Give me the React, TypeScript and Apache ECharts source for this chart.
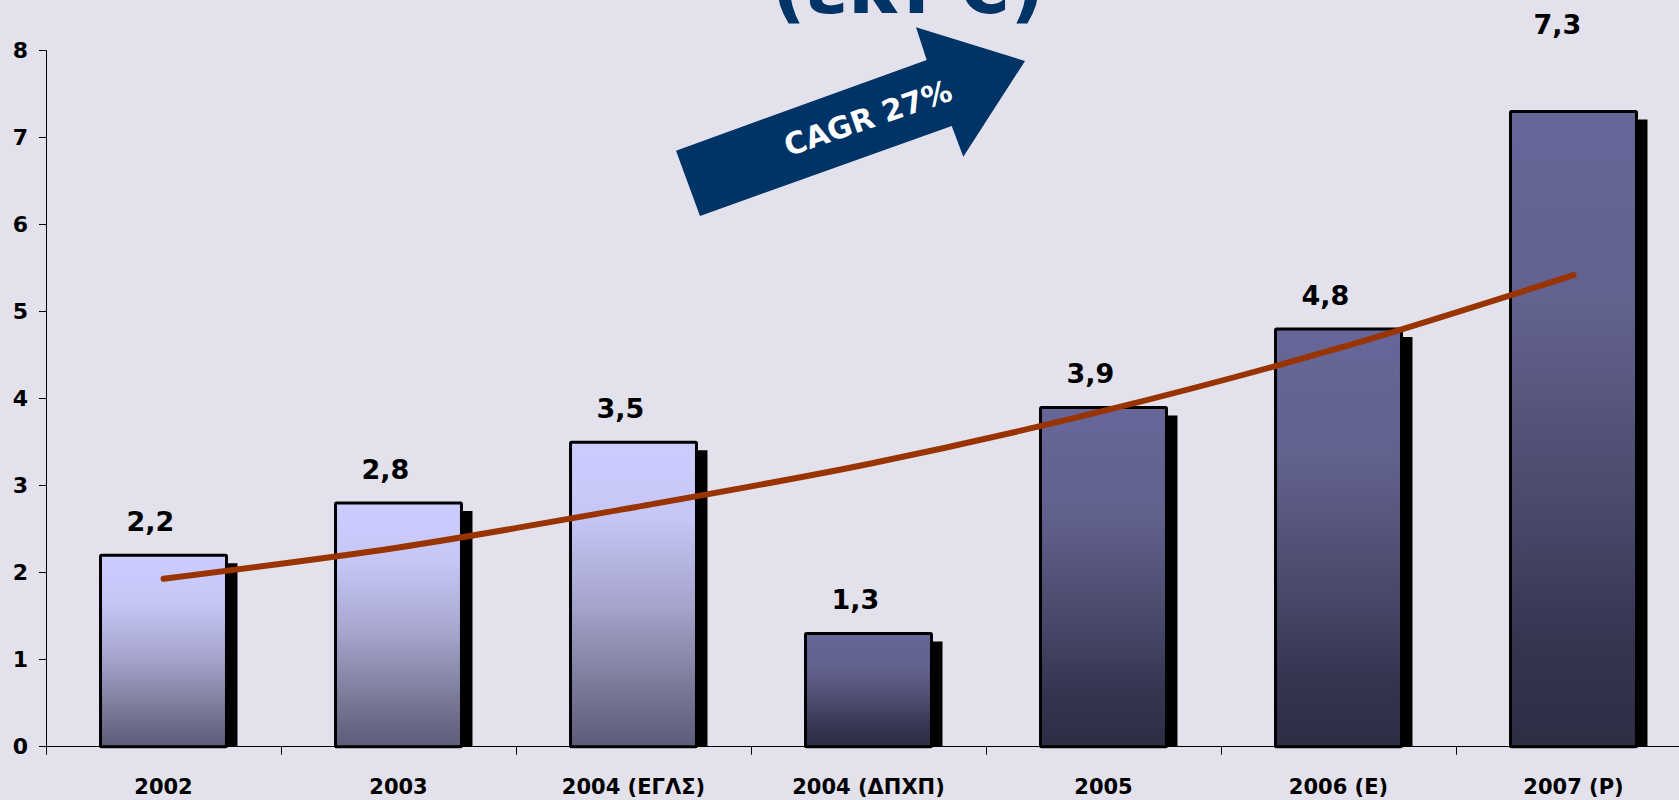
import React, { useEffect, useRef } from 'react';
import * as echarts from 'echarts';

// ---- data ----
const categories = ['2002', '2003', '2004 (ΕΓΛΣ)', '2004 (ΔΠΧΠ)', '2005', '2006 (E)', '2007 (P)'];
const values = [2.2, 2.8, 3.5, 1.3, 3.9, 4.8, 7.3];
const standard = ['ΕΓΛΣ', 'ΕΓΛΣ', 'ΕΓΛΣ', 'ΔΠΧΠ', 'ΔΠΧΠ', 'ΔΠΧΠ', 'ΔΠΧΠ'];
const trend = [1.93, 2.29, 2.75, 3.25, 3.86, 4.58, 5.42];
const yMin = 0;
const yMax = 8;
const yStep = 1;
const titleText = '(εκ. €)';
const arrowText = 'CAGR 27%';

// ---- styles ----
const FONT = 'DejaVu Sans';
const BG = '#E3E1EC';
const NAVY = '#003366';
const BAR_RATIO = 0.536;
const LABEL_DX = [-13, -13, -13, -13, -13, -13, -16];
const LABEL_LIFT = [34, 34, 34, 34, 34, 34, 87];

const lightStops = [
  { offset: 0, color: '#CCCCFF' },
  { offset: 0.25, color: '#C6C6F6' },
  { offset: 0.55, color: '#A2A2CA' },
  { offset: 0.8, color: '#7A7A98' },
  { offset: 1, color: '#5C5C78' },
];
const darkStops = [
  { offset: 0, color: '#666699' },
  { offset: 0.3, color: '#62628F' },
  { offset: 0.6, color: '#4B4B6E' },
  { offset: 0.85, color: '#34344F' },
  { offset: 1, color: '#2D2D44' },
];

export default function App() {
  const ref = useRef<HTMLDivElement>(null);

  useEffect(() => {
    if (!ref.current) return;
    const chart = echarts.init(ref.current, undefined, { renderer: 'svg' });

    const option: any = {
      animation: false,
      backgroundColor: BG,
      grid: {
        left: 46,
        right: -12,
        top: 50.7,
        bottom: 53.3,
        containLabel: false,
        outerBoundsMode: 'none',
      },
      xAxis: {
        type: 'category',
        data: categories,
        boundaryGap: true,
        axisLine: { lineStyle: { color: '#000', width: 1 } },
        axisTick: { show: true, length: 8, lineStyle: { color: '#000' } },
        axisLabel: {
          margin: 30,
          fontFamily: FONT,
          fontWeight: 'bold',
          fontSize: 21,
          color: '#000',
          interval: 0,
        },
        splitLine: { show: false },
      },
      yAxis: {
        type: 'value',
        min: yMin,
        max: yMax,
        interval: yStep,
        axisLine: { show: true, lineStyle: { color: '#000', width: 1 } },
        axisTick: { show: true, length: 7, lineStyle: { color: '#000' } },
        axisLabel: {
          margin: 18,
          fontFamily: FONT,
          fontWeight: 'bold',
          fontSize: 22,
          color: '#000',
        },
        splitLine: { show: false },
      },
      series: [
        {
          type: 'custom',
          clip: false,
          z: 2,
          data: values.map((v, i) => [i, v]),
          encode: { x: 0, y: 1 },
          renderItem: (params: any, api: any) => {
            const i = params.dataIndex;
            const v = api.value(1);
            const top = api.coord([api.value(0), v]);
            const base = api.coord([api.value(0), 0]);
            const band = api.size([1, 0])[0];
            const w = band * BAR_RATIO;
            const x = top[0] - w / 2;
            const h = base[1] - top[1];
            const light = standard[i] === 'ΕΓΛΣ';
            const fill = new echarts.graphic.LinearGradient(0, 0, 0, 1, light ? lightStops : darkStops);
            return {
              type: 'group',
              children: [
                {
                  type: 'rect',
                  shape: { x: x + 11, y: top[1] + 8, width: w, height: Math.max(0, h - 8) },
                  style: { fill: '#000' },
                },
                {
                  type: 'rect',
                  shape: { x, y: top[1], width: w, height: h, r: 1 },
                  style: { fill, stroke: '#000', lineWidth: 3 },
                },
                {
                  type: 'text',
                  style: {
                    text: v.toFixed(1).replace('.', ','),
                    x: top[0] + LABEL_DX[i],
                    y: top[1] - LABEL_LIFT[i],
                    align: 'center',
                    verticalAlign: 'middle',
                    fontFamily: FONT,
                    fontWeight: 'bold',
                    fontSize: 27,
                    fill: '#000',
                  },
                },
              ],
            };
          },
        },
        {
          type: 'line',
          data: trend,
          z: 5,
          smooth: 0.3,
          showSymbol: false,
          symbol: 'none',
          lineStyle: { color: '#993300', width: 6, cap: 'round', join: 'round' },
        },
      ],
      graphic: [
        {
          type: 'text',
          z: 10,
          style: {
            text: titleText,
            x: 908,
            y: -13.6,
            align: 'center',
            verticalAlign: 'middle',
            fontFamily: FONT,
            fontWeight: 'bold',
            fontSize: 76,
            fill: NAVY,
          },
        },
        {
          type: 'polygon',
          z: 10,
          shape: {
            points: [
              [700, 216],
              [676, 150.7],
              [926.7, 60],
              [916, 27.3],
              [1025, 61],
              [963.3, 156.7],
              [951.7, 126],
            ],
          },
          style: { fill: NAVY },
        },
        {
          type: 'text',
          z: 11,
          x: 868,
          y: 118,
          rotation: (19 * Math.PI) / 180,
          style: {
            text: arrowText,
            x: 0,
            y: 0,
            align: 'center',
            verticalAlign: 'middle',
            fontFamily: FONT,
            fontWeight: 'bold',
            fontSize: 30,
            fill: '#FFFFFF',
          },
        },
      ],
    };

    chart.setOption(option);
    return () => chart.dispose();
  }, []);

  return (
    <div
      ref={ref}
      style={{ position: 'fixed', left: 0, top: 0, width: 1679, height: 800, background: BG }}
    />
  );
}
